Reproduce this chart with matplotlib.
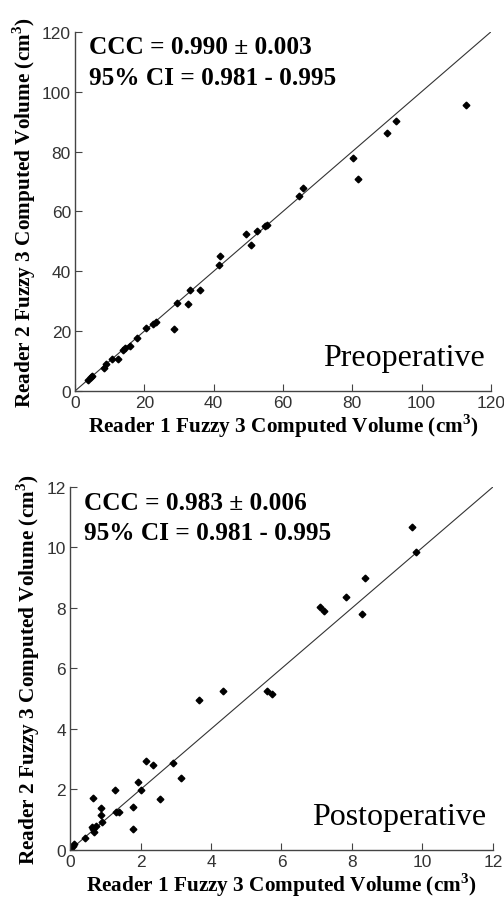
import matplotlib
matplotlib.use("Agg")
import matplotlib.pyplot as plt

# preoperative volumes (cm^3)
pre_r1 = [3.8, 4.5, 4.8, 8.2, 8.9, 10.6, 12.5, 13.9, 14.4, 15.9, 18.0, 20.5, 22.4, 23.4,
          28.6, 29.5, 32.5, 33.2, 36.1, 41.5, 41.9, 49.2, 50.7, 52.4, 54.8, 55.3, 64.7,
          65.9, 80.3, 81.7, 89.9, 92.5, 112.8]
pre_r2 = [3.6, 4.5, 4.9, 7.8, 8.9, 10.8, 10.5, 13.6, 14.2, 14.9, 17.8, 21.1, 22.5, 23.1,
          20.6, 29.5, 29.0, 33.7, 33.7, 42.1, 45.2, 52.5, 48.9, 53.4, 55.1, 55.5, 65.0,
          67.9, 77.8, 70.9, 86.2, 90.2, 95.6]

# postoperative volumes (cm^3)
post_r1 = [0.03, 0.07, 0.12, 0.41, 0.61, 0.66, 0.69, 0.73, 0.66, 0.88, 0.88, 0.92, 1.28,
           1.30, 1.39, 1.80, 1.80, 1.94, 2.01, 2.15, 2.36, 2.55, 2.93, 3.15, 3.67, 4.33,
           5.58, 5.72, 7.09, 7.21, 7.82, 8.29, 8.37, 9.70, 9.82]
post_r2 = [0.06, 0.12, 0.20, 0.39, 0.75, 0.69, 0.58, 0.80, 1.71, 1.38, 1.16, 0.94, 1.98,
           1.25, 1.25, 1.41, 0.69, 2.24, 1.99, 2.94, 2.81, 1.69, 2.87, 2.39, 4.97, 5.27,
           5.27, 5.16, 8.02, 7.91, 8.37, 7.81, 8.99, 10.69, 9.84]

pre_ticks = [0, 20, 40, 60, 80, 100, 120]
post_ticks = [0, 2, 4, 6, 8, 10, 12]

xlab = "Reader 1 Fuzzy 3 Computed Volume (cm$^\\mathregular{3}$)"
ylab = "Reader 2 Fuzzy 3 Computed Volume (cm$^\\mathregular{3}$)"
serif = ["Liberation Serif", "DejaVu Serif"]
tickfont = ["Liberation Sans Narrow", "Liberation Sans", "DejaVu Sans"]

fig = plt.figure(figsize=(5.04, 9.03), dpi=100)
ax1 = fig.add_axes([0.149, 0.566, 0.825, 0.3976])
ax2 = fig.add_axes([0.139, 0.0576, 0.839, 0.402])


def style(ax, ticks, r1, r2, lim, ccc, label):
    ax.plot([0, lim], [0, lim], color="#333333", lw=0.8)
    ax.plot(r1, r2, ls="none", marker="D", ms=3.4, color="black")
    ax.set_xlim(0, lim)
    ax.set_ylim(0, lim)
    ax.set_xticks(ticks)
    ax.set_yticks(ticks)
    for s in ["top", "right"]:
        ax.spines[s].set_visible(False)
    for s in ["left", "bottom"]:
        ax.spines[s].set_color("#444444")
        ax.spines[s].set_linewidth(1.0)
    ax.tick_params(direction="in", length=5, color="#444444", labelsize=12.5,
                   labelcolor="#333333", pad=3)
    for t in ax.get_xticklabels() + ax.get_yticklabels():
        t.set_family(tickfont)
    ax.set_xlabel(xlab, family=serif, weight="bold", fontsize=15.3, labelpad=1)
    ax.set_ylabel(ylab, family=serif, weight="bold", fontsize=15.3, labelpad=3)
    ax.text(0.033, 0.99, ccc, transform=ax.transAxes, family=serif, weight="bold",
            fontsize=18.2, va="top", ha="left", linespacing=1.4)
    ax.text(0.985, 0.072, label, transform=ax.transAxes, family=serif,
            fontsize=23, va="baseline", ha="right")


style(ax1, pre_ticks, pre_r1, pre_r2, 120,
      "CCC = 0.990 \u00b1 0.003\n95% CI = 0.981 - 0.995", "Preoperative")
style(ax2, post_ticks, post_r1, post_r2, 12,
      "CCC = 0.983 \u00b1 0.006\n95% CI = 0.981 - 0.995", "Postoperative")

fig.savefig("out.png", dpi=100)
